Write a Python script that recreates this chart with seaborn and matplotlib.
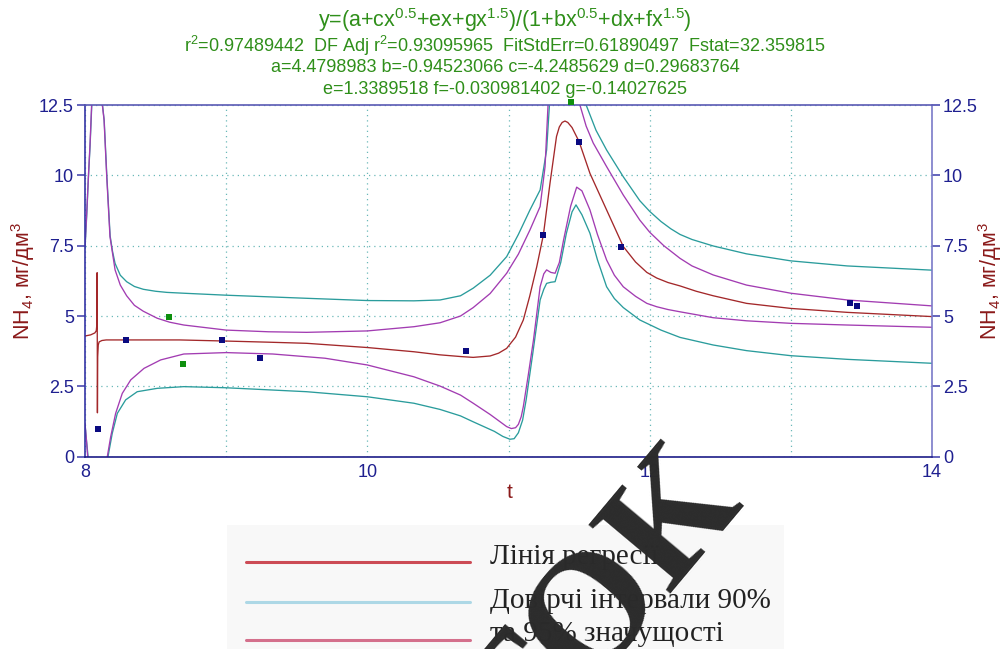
import numpy as np
import pandas as pd
import matplotlib
matplotlib.use("Agg")
import matplotlib.pyplot as plt
import seaborn as sns
from matplotlib.lines import Line2D
from matplotlib.patches import Rectangle

# ---------------- data ----------------
# regression line
reg_t = [8.0, 8.04, 8.07, 8.08, 8.084, 8.086, 8.088, 8.090, 8.094, 8.10, 8.12, 8.15, 8.3, 8.67,
         9.0, 9.3, 9.57, 10.0, 10.33, 10.515, 10.66, 10.75, 10.87, 10.93, 10.987, 11.05, 11.105,
         11.15, 11.2, 11.247, 11.294, 11.34, 11.36, 11.38, 11.40, 11.42, 11.45, 11.50, 11.577,
         11.695, 11.813, 11.9, 11.98, 12.05, 12.13, 12.215, 12.33, 12.45, 12.686, 13.0, 13.4, 14.0]
reg_v = [4.29, 4.33, 4.40, 4.48, 4.70, 6.54, 1.56, 3.55, 3.97, 4.08, 4.13, 4.15, 4.15, 4.15,
         4.11, 4.07, 4.03, 3.88, 3.73, 3.62, 3.56, 3.53, 3.58, 3.68, 3.85, 4.25, 4.86,
         5.70, 6.75, 7.88, 9.72, 11.38, 11.72, 11.88, 11.93, 11.88, 11.70, 11.20, 10.07,
         8.77, 7.47, 6.92, 6.55, 6.35, 6.19, 6.07, 5.88, 5.72, 5.45, 5.27, 5.13, 4.98]

# 95% band, upper (three branches)
u95a_t = [8.0, 8.012, 8.024, 8.036, 8.047]
u95a_v = [7.47, 8.65, 9.95, 11.15, 12.5]
u95b_t = [8.123, 8.135, 8.154, 8.177, 8.213, 8.25, 8.295, 8.35, 8.413, 8.512, 8.6, 8.7, 9.0,
          9.3, 9.57, 10.0, 10.33, 10.515, 10.66, 10.75, 10.87, 10.987, 11.07, 11.152, 11.224,
          11.259, 11.28]
u95b_v = [12.5, 11.97, 9.95, 7.82, 6.64, 6.10, 5.72, 5.38, 5.17, 4.92, 4.78, 4.68, 4.50,
          4.44, 4.42, 4.47, 4.62, 4.76, 5.00, 5.30, 5.80, 6.52, 7.20, 8.06, 8.89,
          10.31, 12.5]
u95c_t = [11.506, 11.55, 11.6, 11.695, 11.813, 11.93, 12.0, 12.1, 12.215, 12.3, 12.45, 12.686,
          13.0, 13.4, 14.0]
u95c_v = [12.5, 11.75, 11.15, 10.31, 9.30, 8.41, 7.98, 7.50, 7.05, 6.78, 6.46, 6.10,
          5.81, 5.57, 5.36]

# 95% band, lower
l95a_t = [8.0, 8.01, 8.019]
l95a_v = [1.19, 0.60, 0.0]
l95b_t = [8.158, 8.182, 8.217, 8.264, 8.324, 8.418, 8.536, 8.7, 9.0, 9.33, 9.7, 10.0, 10.33,
          10.515, 10.66, 10.75, 10.87, 10.93, 10.987, 11.02, 11.05, 11.07, 11.09, 11.105, 11.14,
          11.177, 11.224, 11.25, 11.27, 11.30, 11.33, 11.36, 11.39, 11.44, 11.483, 11.52,
          11.577, 11.63, 11.695, 11.75, 11.813, 11.9, 11.98, 12.05, 12.13, 12.215, 12.45,
          12.686, 13.0, 13.4, 14.0]
l95b_v = [0.0, 0.71, 1.54, 2.25, 2.73, 3.14, 3.44, 3.65, 3.70, 3.65, 3.50, 3.26, 2.84,
          2.51, 2.19, 1.90, 1.50, 1.28, 1.07, 1.00, 1.03, 1.15, 1.42, 1.78, 2.90,
          4.15, 6.04, 6.50, 6.64, 6.55, 6.52, 6.90, 7.70, 8.90, 9.58, 9.45,
          8.77, 7.90, 6.99, 6.45, 6.04, 5.70, 5.45, 5.33, 5.23, 5.15, 4.94,
          4.83, 4.74, 4.68, 4.60]

# 90% band, upper
u90a_t = [8.0, 8.012, 8.024, 8.036, 8.048]
u90a_v = [7.40, 8.55, 9.90, 11.05, 12.5]
u90b_t = [8.124, 8.136, 8.155, 8.178, 8.195, 8.213, 8.25, 8.295, 8.35, 8.413, 8.5, 8.58, 8.7,
          9.0, 9.57, 10.0, 10.33, 10.515, 10.66, 10.75, 10.87, 10.987, 11.07, 11.152, 11.224,
          11.27, 11.29]
u90b_v = [12.5, 11.95, 9.95, 7.85, 7.30, 6.87, 6.45, 6.22, 6.05, 5.95, 5.88, 5.84, 5.81,
          5.74, 5.63, 5.55, 5.54, 5.57, 5.72, 5.99, 6.45, 7.11, 7.90, 8.77, 9.48,
          10.90, 12.5]
u90c_t = [11.55, 11.62, 11.695, 11.813, 11.93, 12.0, 12.08, 12.15, 12.215, 12.3, 12.45, 12.686,
          13.0, 13.4, 14.0]
u90c_v = [12.5, 11.6, 10.9, 9.95, 9.10, 8.72, 8.36, 8.10, 7.90, 7.72, 7.49, 7.21,
          6.96, 6.78, 6.63]

# 90% band, lower
l90a_t = [8.0, 8.01, 8.022]
l90a_v = [1.15, 0.60, 0.0]
l90b_t = [8.163, 8.193, 8.229, 8.288, 8.37, 8.512, 8.7, 9.0, 9.57, 10.0, 10.33, 10.515,
          10.66, 10.75, 10.9, 10.96, 11.01, 11.04, 11.07, 11.1, 11.125, 11.17, 11.224, 11.25,
          11.27, 11.30, 11.33, 11.37, 11.41, 11.45, 11.478, 11.52, 11.577, 11.63, 11.695,
          11.75, 11.813, 11.93, 12.08, 12.215, 12.45, 12.686, 13.0, 13.4, 14.0]
l90b_v = [0.0, 0.83, 1.54, 2.02, 2.31, 2.43, 2.49, 2.45, 2.31, 2.13, 1.90, 1.68,
          1.45, 1.24, 0.90, 0.72, 0.62, 0.64, 0.85, 1.30, 2.02, 3.60, 5.57, 5.95,
          6.16, 6.20, 6.22, 6.90, 7.94, 8.70, 8.95, 8.60, 7.94, 7.00, 6.04,
          5.62, 5.30, 4.86, 4.50, 4.24, 3.97, 3.77, 3.59, 3.46, 3.32]

# observed points
obs_t = [8.092, 8.293, 8.973, 9.242, 10.697, 11.247, 11.50, 11.794, 13.419, 13.471]
obs_v = [0.97, 4.14, 4.14, 3.52, 3.77, 7.88, 11.20, 7.44, 5.46, 5.36]
out_t = [8.595, 8.696, 11.44]
out_v = [4.98, 3.30, 12.62]

x_ticks = [8, 10, 12, 14]
x_ticklabels = ["8", "10", "12", "14"]
y_ticks = [0, 2.5, 5, 7.5, 10, 12.5]
y_ticklabels = ["0", "2.5", "5", "7.5", "10", "12.5"]

title_lines = [
    "y=(a+cx$^{0.5}$+ex+gx$^{1.5}$)/(1+bx$^{0.5}$+dx+fx$^{1.5}$)",
    "r$^{2}$=0.97489442  DF Adj r$^{2}$=0.93095965  FitStdErr=0.61890497  Fstat=32.359815",
    "a=4.4798983 b=-0.94523066 c=-4.2485629 d=0.29683764",
    "e=1.3389518 f=-0.030981402 g=-0.14027625",
]
legend_labels = ["Лінія регресії", "Довірчі інтервали 90%", "та 95% значущості"]

# ---------------- style ----------------
sns.set_theme(style="white")
plt.rcParams['font.family'] = ['Liberation Sans', 'DejaVu Sans']
plt.rcParams['mathtext.fontset'] = 'custom'
plt.rcParams['mathtext.rm'] = 'Liberation Sans'
plt.rcParams['mathtext.it'] = 'Liberation Sans:italic'
plt.rcParams['mathtext.bf'] = 'Liberation Sans:bold'

C_RED = "#a3282a"
C_MAG = "#a23cb2"
C_TEAL = "#2a9c9c"
C_NAVY_TXT = "#1f2090"
C_GREEN_TXT = "#2f8f1a"
C_LABEL = "#8b1a1a"

W, H = 1003, 649
fig = plt.figure(figsize=(W / 100, H / 100), dpi=100)
fig.patch.set_facecolor("white")
ax = fig.add_axes([85 / W, 1 - 456.7 / H, (932 - 85) / W, (456.7 - 105) / H])
ax.set_facecolor("white")

def draw(ts, vs, color):
    df = pd.DataFrame({"t": ts, "v": vs})
    sns.lineplot(data=df, x="t", y="v", sort=False, estimator=None, color=color,
                 lw=0.95, ax=ax, legend=False)

for ts, vs in [(u90a_t, u90a_v), (u90b_t, u90b_v), (u90c_t, u90c_v),
               (l90a_t, l90a_v), (l90b_t, l90b_v)]:
    draw(ts, vs, C_TEAL)
for ts, vs in [(u95a_t, u95a_v), (u95b_t, u95b_v), (u95c_t, u95c_v),
               (l95a_t, l95a_v), (l95b_t, l95b_v)]:
    draw(ts, vs, C_MAG)
draw(reg_t, reg_v, C_RED)

sns.scatterplot(x=obs_t, y=obs_v, marker="s", s=13, color="#0a0a80", linewidth=0, ax=ax, zorder=5)
sns.scatterplot(x=out_t, y=out_v, marker="s", s=13, color="#0e8f0e", linewidth=0, ax=ax,
                zorder=5, clip_on=False)

ax.set_xlim(8, 14)
ax.set_ylim(0, 12.5)
ax.set_xticks(x_ticks)
ax.set_xticklabels(x_ticklabels)
ax.set_xticks([9, 11, 13], minor=True)
ax.set_yticks(y_ticks)
ax.set_yticklabels(y_ticklabels)
ax.set_xlabel("")
ax.set_ylabel("")

grid_kw = dict(color="#6ab8b8", linestyle=(0, (1, 3.2)), linewidth=0.9)
ax.grid(True, axis="x", which="both", **grid_kw)
ax.grid(True, axis="y", which="major", **grid_kw)

ax.tick_params(axis="x", which="both", length=0, pad=5, labelsize=13, labelcolor=C_NAVY_TXT)
ax.tick_params(axis="y", which="major", left=True, right=True, labelleft=True, labelright=True,
               direction="out", length=6, width=1.2, color="#4a4ab0", pad=2,
               labelsize=13, labelcolor=C_NAVY_TXT)

for side, col in [("left", "#3535a5"), ("top", "#5a5ab4"), ("right", "#7a7ac8"), ("bottom", "#1c1c88")]:
    ax.spines[side].set_visible(True)
    ax.spines[side].set_color(col)
    ax.spines[side].set_linewidth(1.2)

# axis labels
fig.text(23 / W, 1 - 281 / H, "NH$_4$, мг/дм$^3$", rotation=90, ha="center", va="center",
         fontsize=15.5, color=C_LABEL)
fig.text(990 / W, 1 - 281 / H, "NH$_4$, мг/дм$^3$", rotation=90, ha="center", va="center",
         fontsize=15.5, color=C_LABEL)
fig.text(510 / W, 1 - 492 / H, "t", ha="center", va="center", fontsize=15, color=C_LABEL)

# title block
title_y = [20, 46, 68, 90]
title_fs = [15.5, 13, 13, 13]
for txt, yy, fs in zip(title_lines, title_y, title_fs):
    fig.text(505 / W, 1 - yy / H, txt, ha="center", va="center", fontsize=fs, color=C_GREEN_TXT)

# legend panel (image of a document legend)
fig.patches.append(Rectangle((227 / W, 0), (784 - 227) / W, (H - 525) / H,
                             transform=fig.transFigure, facecolor="#f8f8f8", edgecolor="none",
                             zorder=0))
leg_colors = ["#cc4b55", "#add8e6", "#d4708c"]
leg_line_y = [562, 602, 640]
leg_text_y = [557, 601, 634]
for col, ly, ty, lab in zip(leg_colors, leg_line_y, leg_text_y, legend_labels):
    fig.add_artist(Line2D([246 / W, 470 / W], [1 - ly / H, 1 - ly / H], color=col, lw=2.2,
                          transform=fig.transFigure))
    fig.text(490 / W, 1 - ty / H, lab, ha="left", va="center", fontsize=21,
             family="Liberation Serif", color="#222222")

# watermark
fig.text(602 / W, 1 - 612 / H, "ТОК", rotation=50, ha="center", va="center", fontsize=118,
         family="Liberation Serif", fontweight="bold", color="#2b2b2b", zorder=20)

fig.savefig("out.png", dpi=100, facecolor="white")
